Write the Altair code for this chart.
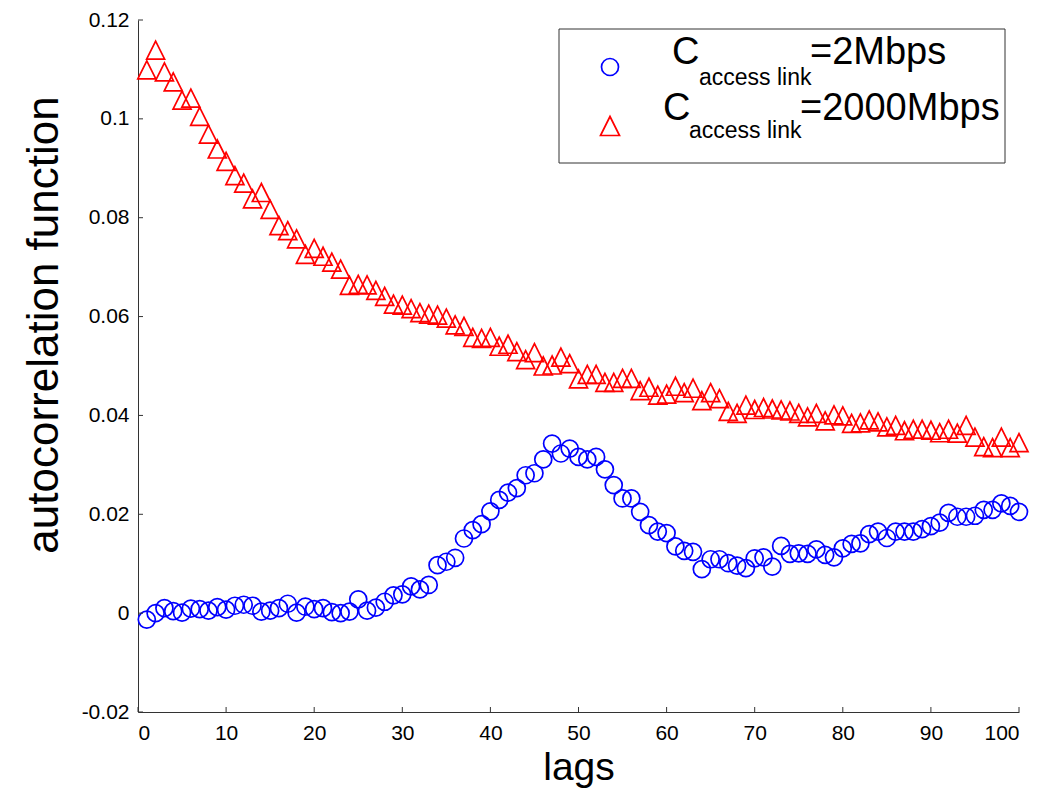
import altair as alt
import pandas as pd

lags = list(range(1, 101))

acf_2mbps = [
    -0.0013, 0.0000, 0.0010, 0.0004, 0.0001, 0.0009, 0.0008, 0.0005, 0.0012, 0.0007,
    0.0015, 0.0017, 0.0015, 0.0003, 0.0005, 0.0010, 0.0019, 0.0001, 0.0013, 0.0008,
    0.0010, 0.0002, 0.0000, 0.0003, 0.0028, 0.0005, 0.0011, 0.0023, 0.0036, 0.0038,
    0.0054, 0.0048, 0.0057, 0.0097, 0.0104, 0.0112, 0.0151, 0.0168, 0.0180, 0.0206,
    0.0229, 0.0244, 0.0253, 0.0279, 0.0283, 0.0311, 0.0343, 0.0323, 0.0333, 0.0316,
    0.0311, 0.0316, 0.0291, 0.0259, 0.0232, 0.0232, 0.0205, 0.0178, 0.0165, 0.0162,
    0.0135, 0.0126, 0.0124, 0.0089, 0.0109, 0.0109, 0.0101, 0.0096, 0.0091, 0.0111,
    0.0113, 0.0094, 0.0136, 0.0120, 0.0121, 0.0120, 0.0129, 0.0118, 0.0113, 0.0131,
    0.0140, 0.0141, 0.0160, 0.0165, 0.0152, 0.0165, 0.0165, 0.0165, 0.0170, 0.0176,
    0.0183, 0.0203, 0.0195, 0.0195, 0.0197, 0.0209, 0.0209, 0.0222, 0.0217, 0.0205,
]

acf_2000mbps = [
    0.1099, 0.1139, 0.1095, 0.1075, 0.1038, 0.1042, 0.1005, 0.0969, 0.0939, 0.0914,
    0.0885, 0.0870, 0.0838, 0.0851, 0.0817, 0.0784, 0.0774, 0.0757, 0.0726, 0.0738,
    0.0722, 0.0710, 0.0696, 0.0663, 0.0665, 0.0664, 0.0653, 0.0641, 0.0625, 0.0623,
    0.0616, 0.0608, 0.0605, 0.0603, 0.0597, 0.0583, 0.0580, 0.0558, 0.0556, 0.0558,
    0.0540, 0.0544, 0.0529, 0.0513, 0.0527, 0.0500, 0.0502, 0.0518, 0.0505, 0.0474,
    0.0483, 0.0483, 0.0467, 0.0467, 0.0475, 0.0475, 0.0450, 0.0457, 0.0441, 0.0443,
    0.0459, 0.0446, 0.0455, 0.0430, 0.0446, 0.0434, 0.0408, 0.0404, 0.0421, 0.0412,
    0.0416, 0.0413, 0.0411, 0.0409, 0.0404, 0.0397, 0.0404, 0.0389, 0.0401, 0.0399,
    0.0384, 0.0385, 0.0391, 0.0387, 0.0377, 0.0380, 0.0369, 0.0372, 0.0372, 0.0370,
    0.0365, 0.0372, 0.0364, 0.0380, 0.0356, 0.0337, 0.0335, 0.0356, 0.0335, 0.0345,
]

x_ticks = [0, 10, 20, 30, 40, 50, 60, 70, 80, 90, 100]
y_ticks = [-0.02, 0, 0.02, 0.04, 0.06, 0.08, 0.1, 0.12]

x_title = "lags"
y_title = "autocorrelation function"
legend_main = "C"
legend_sub = "access link"
legend_values = ["=2Mbps", "=2000Mbps"]

W, H = 881, 692
AXIS_COLOR = "#333333"
FONT = "Liberation Sans"

df_blue = pd.DataFrame({"lag": lags, "acf": acf_2mbps})
df_red = pd.DataFrame({"lag": lags, "acf": acf_2000mbps})
df_xt = pd.DataFrame({"lag": x_ticks})
df_yt = pd.DataFrame({"acf": y_ticks})

x_scale = alt.Scale(domain=[0, 100], nice=False, zero=False)
y_scale = alt.Scale(domain=[-0.02, 0.12], nice=False, zero=False)

x_axis = alt.Axis(
    values=x_ticks, ticks=False, grid=False, domainColor=AXIS_COLOR,
    labelFont=FONT, labelFontSize=21, labelColor="black", labelPadding=10,
    title=None,
)
y_axis = alt.Axis(
    values=y_ticks, ticks=False, grid=False, domainColor=AXIS_COLOR,
    labelFont=FONT, labelFontSize=21, labelColor="black", labelPadding=9,
    labelExpr="datum.value < 0 ? '-' + format(-datum.value, '.2~f') : format(datum.value, '.2~f')",
    title=None,
)

X = alt.X("lag:Q", scale=x_scale, axis=x_axis)
Y = alt.Y("acf:Q", scale=y_scale, axis=y_axis)

blue = alt.Chart(df_blue).mark_point(
    shape="circle", filled=False, size=289, strokeWidth=1.7, color="#0000ff", opacity=1
).encode(x=X, y=Y)

TRI = "M0,-1L-1,1L1,1Z"
red = alt.Chart(df_red).mark_point(
    shape=TRI, filled=False, size=324, strokeWidth=1.7, color="#ff0000", opacity=1
).encode(x=X, y=Y)

# inward tick marks
xt = alt.Chart(df_xt).mark_rule(color=AXIS_COLOR, strokeWidth=1).encode(
    x=X, y=alt.value(H), y2=alt.value(H - 5),
)
yt = alt.Chart(df_yt).mark_rule(color=AXIS_COLOR, strokeWidth=1).encode(
    y=Y, x=alt.value(0), x2=alt.value(5),
)

one = pd.DataFrame({"k": [0]})


def txt(s, x, y, size, align="left", baseline="alphabetic", angle=0):
    return alt.Chart(one).mark_text(
        text=s, align=align, baseline=baseline, font=FONT, fontSize=size,
        color="black", angle=angle,
    ).encode(x=alt.value(x), y=alt.value(y))


ytitle = txt(y_title, -93, 305, 44, align="center", baseline="middle", angle=270)
xtitle = txt(x_title, 441, 760, 39, align="center")

box = alt.Chart(one).mark_rect(fill="white", stroke=AXIS_COLOR, strokeWidth=1).encode(
    x=alt.value(421), x2=alt.value(867), y=alt.value(9), y2=alt.value(143)
)

leg_circle = alt.Chart(one).mark_point(
    shape="circle", filled=False, size=289, strokeWidth=1.7, color="#0000ff", opacity=1
).encode(x=alt.value(472), y=alt.value(47))
leg_tri = alt.Chart(one).mark_point(
    shape=TRI, filled=False, size=361, strokeWidth=1.7, color="#ff0000", opacity=1
).encode(x=alt.value(472), y=alt.value(106))

legend_layers = [
    txt(legend_main, 534, 44, 38),
    txt(legend_sub, 561, 65, 23),
    txt(legend_values[0], 672, 44, 38),
    txt(legend_main, 525, 100, 38),
    txt(legend_sub, 551, 118, 23),
    txt(legend_values[1], 662, 100, 38),
]

chart = alt.layer(
    blue, red, xt, yt, ytitle, xtitle, box, leg_circle, leg_tri, *legend_layers
).properties(
    width=W, height=H,
    background="white",
    autosize=alt.AutoSizeParams(type="none"),
    padding={"left": 130, "top": 12, "right": 13, "bottom": 78},
).configure_view(stroke=None)

chart.save("out.html", embed_options={"renderer": "svg", "actions": False})
